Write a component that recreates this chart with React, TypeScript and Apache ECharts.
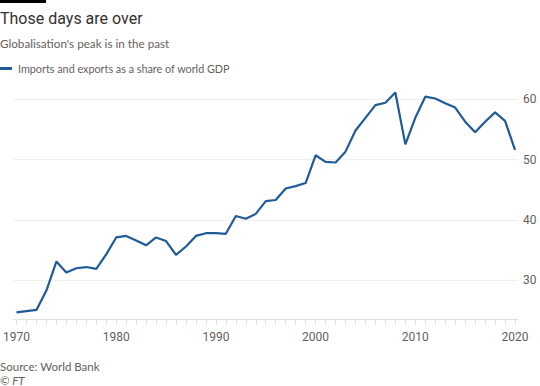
import React, { useEffect, useRef } from "react";
import * as echarts from "echarts";

const years: number[] = [
  1970, 1971, 1972, 1973, 1974, 1975, 1976, 1977, 1978, 1979,
  1980, 1981, 1982, 1983, 1984, 1985, 1986, 1987, 1988, 1989,
  1990, 1991, 1992, 1993, 1994, 1995, 1996, 1997, 1998, 1999,
  2000, 2001, 2002, 2003, 2004, 2005, 2006, 2007, 2008, 2009,
  2010, 2011, 2012, 2013, 2014, 2015, 2016, 2017, 2018, 2019, 2020,
];
const tradeShare: number[] = [
  24.7, 24.9, 25.1, 28.3, 33.1, 31.3, 32.0, 32.2, 31.9, 34.3,
  37.1, 37.35, 36.6, 35.8, 37.1, 36.5, 34.2, 35.6, 37.35, 37.8,
  37.8, 37.7, 40.65, 40.2, 41.0, 43.1, 43.3, 45.2, 45.6, 46.1,
  50.7, 49.6, 49.5, 51.3, 54.8, 56.9, 59.0, 59.4, 61.1, 52.5,
  56.9, 60.4, 60.1, 59.3, 58.6, 56.25, 54.5, 56.25, 57.8, 56.4, 51.6,
];
const xTickLabels: number[] = [1970, 1980, 1990, 2000, 2010, 2020];
const yTickLabels: number[] = [30, 40, 50, 60];
const seriesName = "Imports and exports as a share of world GDP";

const FONT = "Roboto, 'Noto Sans', sans-serif";
const SMALL_FONT = "Lato, Roboto, sans-serif";
const GREY = "#66605c";

export default function App() {
  const ref = useRef<HTMLDivElement>(null);
  useEffect(() => {
    if (!ref.current) return;
    const chart = echarts.init(ref.current, null, { renderer: "svg" });
    chart.setOption({
      animation: false,
      backgroundColor: "#ffffff",
      textStyle: { fontFamily: FONT },
      grid: { left: 12, right: 22, top: 87, bottom: 67, containLabel: false },
      legend: {
        left: 0,
        top: 63,
        padding: 0,
        itemWidth: 12,
        itemHeight: 3,
        icon: "rect",
        data: [seriesName],
        textStyle: { color: GREY, fontSize: 10.8, fontFamily: SMALL_FONT, padding: [0, 0, 0, 1] },
      },
      xAxis: {
        type: "value",
        min: 1969.7,
        max: 2020.3,
        axisLine: { show: true, lineStyle: { color: "#e3dfdb", width: 1 } },
        axisTick: { show: true, length: 6, lineStyle: { color: "#e3dfdb" }, customValues: years },
        axisLabel: {
          customValues: xTickLabels,
          color: GREY,
          fontSize: 12,
          fontFamily: FONT,
          margin: 12,
          formatter: (v: number) => String(v),
        },
        splitLine: { show: false },
      },
      yAxis: {
        type: "value",
        position: "right",
        min: 23.6,
        max: 62,
        axisLine: { show: false },
        axisTick: { show: false, customValues: yTickLabels },
        axisLabel: {
          customValues: yTickLabels,
          color: GREY,
          fontSize: 12,
          fontFamily: FONT,
          margin: 5,
        },
        splitLine: { show: true, lineStyle: { color: "#f1eeeb", width: 1 } },
      },
      series: [
        {
          name: seriesName,
          type: "line",
          data: years.map((y, i) => [y, tradeShare[i]]),
          showSymbol: false,
          symbol: "none",
          lineStyle: { color: "#205b99", width: 2.2 },
          itemStyle: { color: "#205b99" },
        },
      ],
      graphic: [
        { type: "rect", left: 0, top: 0, shape: { width: 46, height: 3 }, style: { fill: "#000000" } },
        {
          type: "text",
          x: 0,
          y: 18.5,
          style: { text: "Those days are over", fill: "#33302e", font: `16px ${FONT}`, verticalAlign: "middle" },
        },
        {
          type: "text",
          x: 0,
          y: 42.5,
          style: { text: "Globalisation's peak is in the past", fill: GREY, font: `11.7px ${SMALL_FONT}`, verticalAlign: "middle" },
        },
        {
          type: "text",
          x: 0,
          y: 366.5,
          style: { text: "Source: World Bank", fill: GREY, font: `11.5px ${SMALL_FONT}`, verticalAlign: "middle" },
        },
        {
          type: "text",
          x: 0,
          y: 380.5,
          style: { text: "© FT", fill: GREY, font: `italic 11.5px ${SMALL_FONT}`, verticalAlign: "middle" },
        },
      ],
    });
    return () => chart.dispose();
  }, []);
  return <div ref={ref} style={{ width: 540, height: 386, position: "absolute", left: 0, top: 0 }} />;
}
